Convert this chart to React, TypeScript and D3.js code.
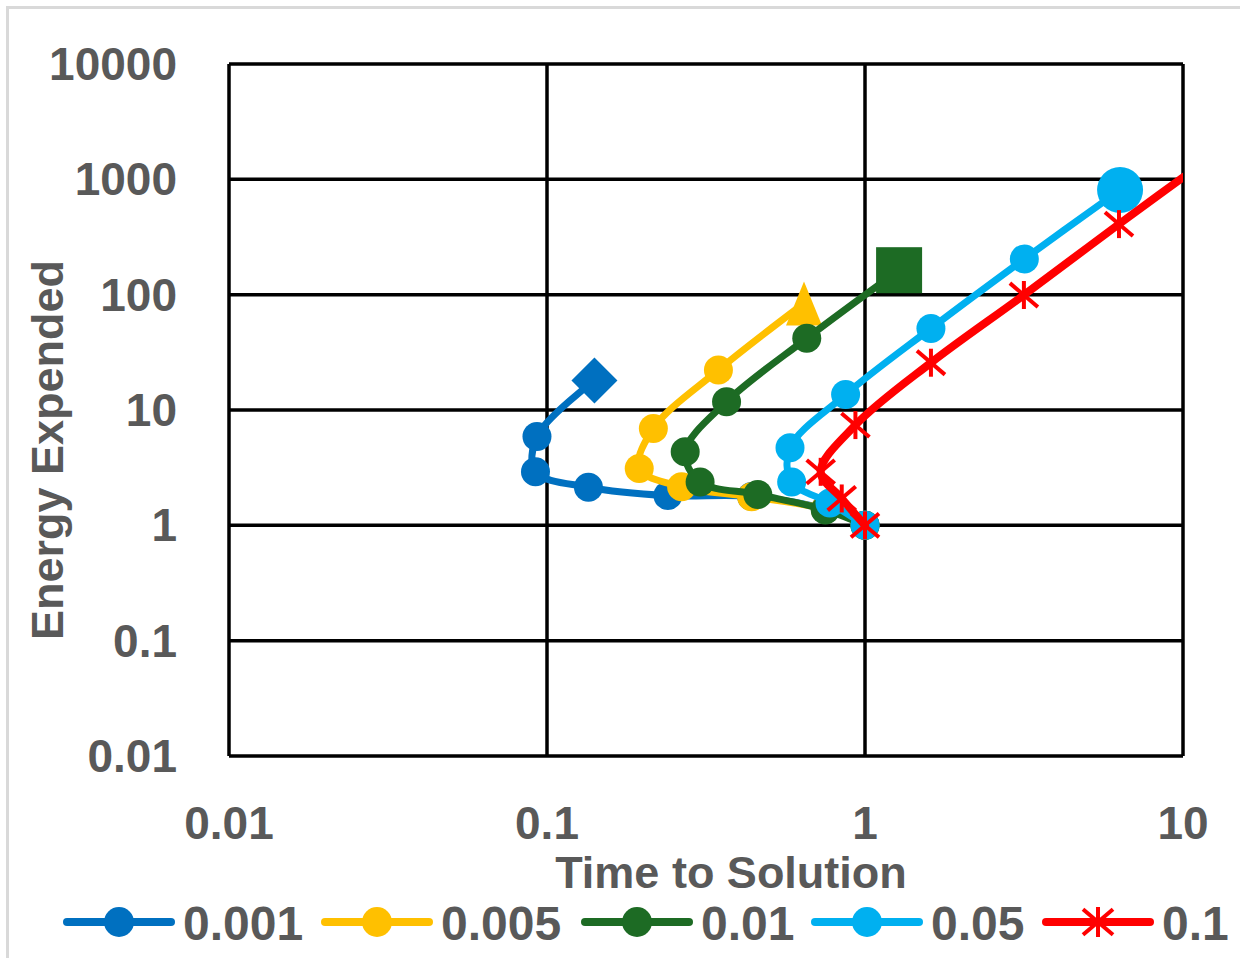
import * as d3 from 'd3';

// tick values / labels
const xTicks = [0.01, 0.1, 1, 10];
const xTickLabels = ['0.01', '0.1', '1', '10'];
const yTicks = [0.01, 0.1, 1, 10, 100, 1000, 10000];
const yTickLabels = ['0.01', '0.1', '1', '10', '100', '1000', '10000'];

// series (time to solution, energy expended)
const seriesNames = ['0.001', '0.005', '0.01', '0.05', '0.1'];
const time001 = [1, 0.75, 0.44, 0.24, 0.135, 0.092, 0.093, 0.141];
const energy001 = [1, 1.38, 1.78, 1.81, 2.14, 2.92, 5.9, 18];
const time005 = [1, 0.75, 0.44, 0.265, 0.195, 0.216, 0.346, 0.643];
const energy005 = [1, 1.38, 1.77, 2.16, 3.11, 6.92, 22.2, 84];
const time01 = [1, 0.75, 0.46, 0.303, 0.272, 0.367, 0.656, 1.28];
const energy01 = [1, 1.36, 1.85, 2.38, 4.34, 11.8, 41.8, 163];
const time05 = [1, 0.776, 0.588, 0.581, 0.869, 1.612, 3.17, 6.34];
const energy05 = [1, 1.56, 2.38, 4.7, 13.6, 51.0, 204, 808];
const time1 = [1, 0.845, 0.7255, 0.933, 1.612, 3.16, 6.29, 12.6];
const energy1 = [1, 1.71, 2.91, 7.4, 25.7, 99.3, 409, 1650];

const colors = ['#0070C0', '#FFC000', '#1D6B24', '#00B0F0', '#FF0000'];
const endMarkers = ['diamond', 'triangle', 'square', 'bigcircle', 'star'];

const W = 1240;
const H = 958;
const margin = { left: 229, right: 57, top: 64, bottom: 202 };
const FONT = '"Liberation Sans", Arial, sans-serif';
const GREY = '#595959';

const x = d3.scaleLog().domain([0.01, 10]).range([margin.left, W - margin.right]);
const y = d3.scaleLog().domain([0.01, 10000]).range([H - margin.bottom, margin.top]);

const line = d3
  .line<[number, number]>()
  .x(d => x(d[0]))
  .y(d => y(d[1]))
  .curve(d3.curveCatmullRom.alpha(0.5));

// Excel-style star: an X with a vertical bar
function Star({ cx, cy, color, s = 14 }: { cx: number; cy: number; color: string; s?: number }) {
  return (
    <g stroke={color} strokeWidth={4}>
      <line x1={cx - s} y1={cy - s * 0.85} x2={cx + s} y2={cy + s * 0.85} />
      <line x1={cx - s} y1={cy + s * 0.85} x2={cx + s} y2={cy - s * 0.85} />
      <line x1={cx} y1={cy - s} x2={cx} y2={cy + s} />
    </g>
  );
}

function Marker({ kind, cx, cy, color }: { kind: string; cx: number; cy: number; color: string }) {
  if (kind === 'circle') return <circle cx={cx} cy={cy} r={14.5} fill={color} />;
  if (kind === 'bigcircle') return <circle cx={cx} cy={cy} r={23} fill={color} />;
  if (kind === 'diamond')
    return <path d={`M${cx},${cy - 23}L${cx + 23},${cy}L${cx},${cy + 23}L${cx - 23},${cy}Z`} fill={color} />;
  if (kind === 'square') return <rect x={cx - 23} y={cy - 23} width={46} height={46} fill={color} />;
  if (kind === 'triangle')
    return <path d={`M${cx},${cy - 22}L${cx + 18},${cy + 22}L${cx - 18},${cy + 22}Z`} fill={color} />;
  return <Star cx={cx} cy={cy} color={color} />;
}

export default function App() {
  const times = [time001, time005, time01, time05, time1];
  const energies = [energy001, energy005, energy01, energy05, energy1];
  const series = seriesNames.map((name, i) => ({
    name,
    color: colors[i],
    end: endMarkers[i],
    pts: times[i].map((t, j) => [t, energies[i][j]] as [number, number]),
  }));

  const [x0, x1] = x.range();
  const [y0, y1] = y.range();
  const legendX = [67, 325, 585, 815, 1046];

  return (
    <svg width={W} height={H} style={{ position: 'absolute', left: 0, top: 0, background: '#fff' }}>
      <defs>
        <clipPath id="plot">
          <rect x={x0} y={y1} width={x1 - x0} height={y0 - y1} />
        </clipPath>
      </defs>
      <rect x={7.5} y={7.5} width={W + 20} height={H + 20} fill="#fff" stroke="#d9d9d9" strokeWidth={3} />

      {/* grid */}
      <g stroke="#000" strokeWidth={3.5}>
        {yTicks.map(t => (
          <line key={'h' + t} x1={x0} x2={x1} y1={y(t)} y2={y(t)} />
        ))}
        {xTicks.map(t => (
          <line key={'v' + t} x1={x(t)} x2={x(t)} y1={y1} y2={y0} />
        ))}
      </g>

      {/* tick labels */}
      <g fill={GREY} fontFamily={FONT} fontWeight="bold" fontSize={46}>
        {yTicks.map((t, i) => (
          <text key={'yl' + t} x={177} y={y(t) + 16} textAnchor="end">
            {yTickLabels[i]}
          </text>
        ))}
        {xTicks.map((t, i) => (
          <text key={'xl' + t} x={x(t)} y={839} textAnchor="middle">
            {xTickLabels[i]}
          </text>
        ))}
      </g>

      {/* axis titles */}
      <text x={731} y={888} textAnchor="middle" fill={GREY} fontFamily={FONT} fontWeight="bold" fontSize={45}>
        Time to Solution
      </text>
      <text
        transform="translate(63,450) rotate(-90)"
        textAnchor="middle"
        fill={GREY}
        fontFamily={FONT}
        fontWeight="bold"
        fontSize={45}
      >
        Energy Expended
      </text>

      {/* series */}
      <g clipPath="url(#plot)">
        {series.map(s => (
          <g key={s.name}>
            <path
              d={line(s.pts) || ''}
              fill="none"
              stroke={s.color}
              strokeWidth={s.end === 'star' ? 8 : 7}
              strokeLinejoin="round"
              strokeLinecap="round"
            />
            {s.pts.map((p, j) => (
              <Marker
                key={j}
                kind={j === s.pts.length - 1 ? s.end : s.end === 'star' ? 'star' : 'circle'}
                cx={x(p[0])}
                cy={y(p[1])}
                color={s.color}
              />
            ))}
          </g>
        ))}
      </g>

      {/* legend */}
      <g fontFamily={FONT} fontWeight="bold" fontSize={48} fill={GREY}>
        {series.map((s, i) => (
          <g key={'lg' + s.name} transform={`translate(${legendX[i]},922)`}>
            <line x1={0} x2={104} y1={0} y2={0} stroke={s.color} strokeWidth={8} strokeLinecap="round" />
            {s.end === 'star' ? (
              <Star cx={52} cy={0} color={s.color} s={15} />
            ) : (
              <circle cx={52} cy={0} r={15} fill={s.color} />
            )}
            <text x={116} y={18}>
              {s.name}
            </text>
          </g>
        ))}
      </g>
    </svg>
  );
}
